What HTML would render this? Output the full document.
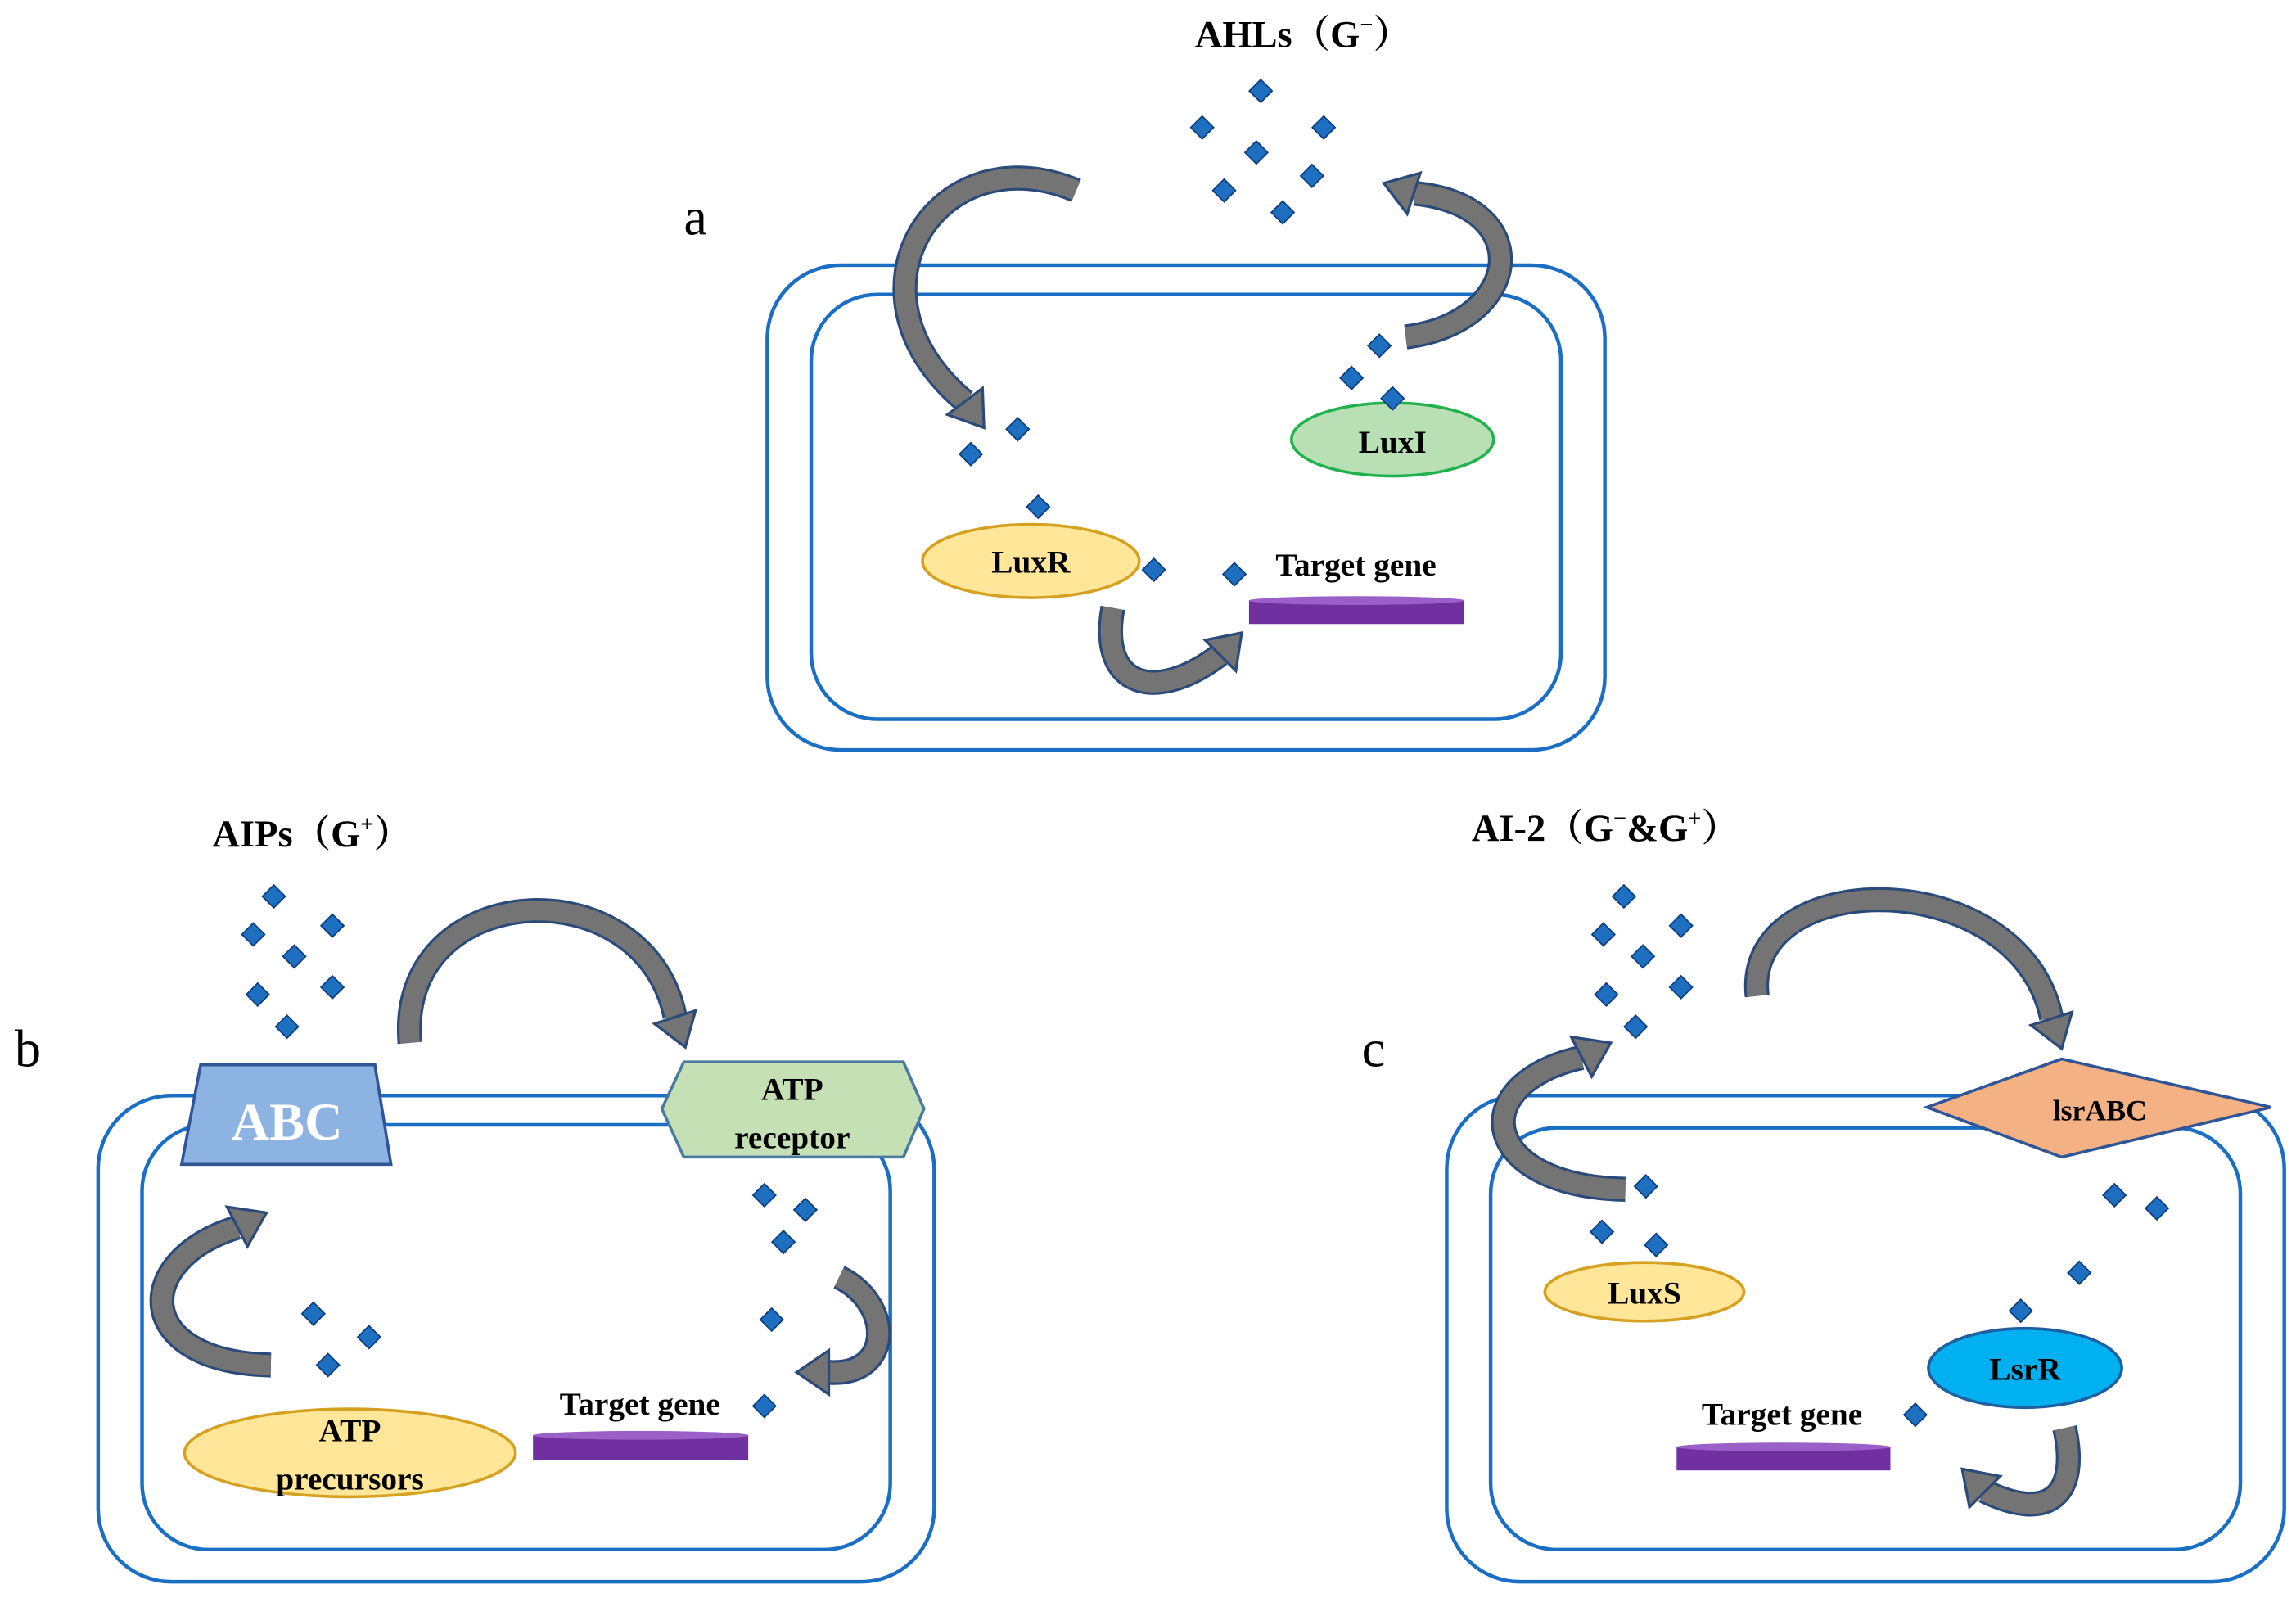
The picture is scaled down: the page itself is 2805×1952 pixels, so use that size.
<!DOCTYPE html>
<html><head><meta charset="utf-8"><style>
html,body{margin:0;padding:0;background:#fff;}
svg{display:block;}
text{font-family:"Liberation Serif","Noto Serif CJK SC",serif;font-weight:bold;fill:#000;}
text.n{font-weight:normal;}
</style></head><body>
<svg width="2805" height="1952" viewBox="0 0 1568 1091" xmlns="http://www.w3.org/2000/svg">
<defs>
<g id="d"><rect x="-5.5" y="-5.5" width="11" height="11" transform="rotate(45)" fill="#1f6fc0" stroke="#0d3f80" stroke-width="1"/></g>
</defs>
<g fill="none" stroke="#1a6fc4" stroke-width="2.5">
<rect x="524" y="181" width="572" height="331" rx="50"/>
<rect x="554" y="201" width="512" height="290" rx="45"/>
<rect x="67" y="748" width="571" height="332" rx="50"/>
<rect x="97" y="768" width="511" height="290" rx="45"/>
<rect x="988" y="748" width="572" height="332" rx="50"/>
<rect x="1018" y="770" width="512" height="288" rx="45"/>
</g>
<g fill="none" stroke-linecap="butt">
<g stroke="#2a4a7a" stroke-width="17">
<path d="M735,130 C640,90 570,200 659,274"/>
<path d="M960,230 C1040,220 1050,140 966,132"/>
<path d="M760,415 C750,470 790,480 833,447"/>
<path d="M280,712 C270,600 440,590 461,694"/>
<path d="M185,932 C90,930 90,860 162,838"/>
<path d="M573,872 C610,890 610,940 566,937"/>
<path d="M1200,680 C1190,590 1380,590 1401,695"/>
<path d="M1110,812 C1010,810 1000,740 1080,722"/>
<path d="M1410,975 C1420,1020 1400,1040 1355,1018"/>
</g>
<g stroke="#747474" stroke-width="13.5">
<path d="M735,130 C640,90 570,200 659,274"/>
<path d="M960,230 C1040,220 1050,140 966,132"/>
<path d="M760,415 C750,470 790,480 833,447"/>
<path d="M280,712 C270,600 440,590 461,694"/>
<path d="M185,932 C90,930 90,860 162,838"/>
<path d="M573,872 C610,890 610,940 566,937"/>
<path d="M1200,680 C1190,590 1380,590 1401,695"/>
<path d="M1110,812 C1010,810 1000,740 1080,722"/>
<path d="M1410,975 C1420,1020 1400,1040 1355,1018"/>
</g>
</g>
<g fill="#747474" stroke="#2a4a7a" stroke-width="1.8">
<polygon points="672,292 671,265 647,283"/>
<polygon points="945,125 970,118 961,146"/>
<polygon points="848,432 844,458 823,437"/>
<polygon points="468,715 475,690 447,699"/>
<polygon points="182,828 169,851 155,824"/>
<polygon points="544,937 566,952 566,922"/>
<polygon points="1408,716 1415,691 1387,700"/>
<polygon points="1100,712 1087,735 1073,708"/>
<polygon points="1340,1003 1345,1029 1366,1008"/>
</g>
<ellipse cx="704" cy="383" rx="74" ry="25" fill="#ffe699" stroke="#d6a020" stroke-width="2"/>
<ellipse cx="951" cy="300" rx="69" ry="25" fill="#b9e0b5" stroke="#22b14c" stroke-width="2"/>
<ellipse cx="239" cy="992" rx="113" ry="30" fill="#ffe699" stroke="#d6a020" stroke-width="2"/>
<ellipse cx="1123" cy="882" rx="68" ry="20" fill="#ffe699" stroke="#d6a020" stroke-width="2"/>
<ellipse cx="1383" cy="934" rx="66" ry="27" fill="#00b0f0" stroke="#1f5fa0" stroke-width="2"/>
<g fill="#7030a0">
<rect x="853" y="410" width="147" height="16"/><ellipse cx="926.5" cy="410" rx="73.5" ry="3" fill="#9a60c8"/>
<rect x="364" y="980" width="147" height="17"/><ellipse cx="437.5" cy="980" rx="73.5" ry="3" fill="#9a60c8"/>
<rect x="1145" y="988" width="146" height="16"/><ellipse cx="1218" cy="988" rx="73" ry="3" fill="#9a60c8"/>
</g>
<polygon points="137,727 256,727 267,795 124,795" fill="#8db3e2" stroke="#2f5597" stroke-width="2"/>
<polygon points="452,757 467,725 617,725 631,757 617,790 467,790" fill="#c5e0b4" stroke="#4a7aa0" stroke-width="2"/>
<polygon points="1316,756 1408,723 1551,756 1408,790" fill="#f4b183" stroke="#2f5597" stroke-width="2"/>
<g>
<use href="#d" x="861" y="62"/><use href="#d" x="821" y="87"/><use href="#d" x="904" y="87"/><use href="#d" x="858" y="104"/><use href="#d" x="896" y="120"/><use href="#d" x="836" y="130"/><use href="#d" x="876" y="145"/>
<use href="#d" x="942" y="236"/><use href="#d" x="923" y="258"/><use href="#d" x="951" y="272"/><use href="#d" x="695" y="293"/><use href="#d" x="663" y="310"/><use href="#d" x="709" y="346"/><use href="#d" x="788" y="389"/><use href="#d" x="843" y="392"/>
<use href="#d" x="187" y="612"/><use href="#d" x="173" y="638"/><use href="#d" x="227" y="632"/><use href="#d" x="201" y="653"/><use href="#d" x="176" y="679"/><use href="#d" x="227" y="674"/><use href="#d" x="196" y="701"/>
<use href="#d" x="214" y="897"/><use href="#d" x="252" y="913"/><use href="#d" x="224" y="932"/><use href="#d" x="522" y="816"/><use href="#d" x="550" y="826"/><use href="#d" x="535" y="848"/><use href="#d" x="527" y="901"/><use href="#d" x="522" y="960"/>
<use href="#d" x="1109" y="612"/><use href="#d" x="1095" y="638"/><use href="#d" x="1148" y="632"/><use href="#d" x="1122" y="653"/><use href="#d" x="1097" y="679"/><use href="#d" x="1148" y="674"/><use href="#d" x="1117" y="701"/>
<use href="#d" x="1124" y="810"/><use href="#d" x="1094" y="841"/><use href="#d" x="1131" y="850"/><use href="#d" x="1444" y="816"/><use href="#d" x="1473" y="825"/><use href="#d" x="1420" y="869"/><use href="#d" x="1380" y="895"/><use href="#d" x="1308" y="966"/>
</g>
<text x="816" y="32" font-size="26">AHLs（G<tspan font-size="16" dy="-10">−</tspan><tspan dy="10">）</tspan></text>
<text x="145" y="578" font-size="26">AIPs（G<tspan font-size="16" dy="-10">+</tspan><tspan dy="10">）</tspan></text>
<text x="1005" y="574" font-size="26">AI-2（G<tspan font-size="16" dy="-10">−</tspan><tspan dy="10">&amp;G</tspan><tspan font-size="16" dy="-10">+</tspan><tspan dy="10">）</tspan></text>
<text class="n" x="467" y="160" font-size="36">a</text>
<text class="n" x="10" y="728" font-size="36">b</text>
<text class="n" x="930" y="728" font-size="36">c</text>
<text x="704" y="391" font-size="22" text-anchor="middle">LuxR</text>
<text x="951" y="309" font-size="22" text-anchor="middle">LuxI</text>
<text x="926" y="393" font-size="22" text-anchor="middle">Target gene</text>
<text x="437" y="966" font-size="22" text-anchor="middle">Target gene</text>
<text x="1217" y="973" font-size="22" text-anchor="middle">Target gene</text>
<text x="196" y="778" font-size="36" text-anchor="middle" style="fill:#fff">ABC</text>
<text x="541" y="751" font-size="22" text-anchor="middle">ATP</text>
<text x="541" y="784" font-size="22" text-anchor="middle">receptor</text>
<text x="1434" y="765" font-size="20" text-anchor="middle">lsrABC</text>
<text x="239" y="984" font-size="22" text-anchor="middle">ATP</text>
<text x="239" y="1017" font-size="22" text-anchor="middle">precursors</text>
<text x="1123" y="890" font-size="22" text-anchor="middle">LuxS</text>
<text x="1383" y="942" font-size="22" text-anchor="middle">LsrR</text>
</svg>
</body></html>
